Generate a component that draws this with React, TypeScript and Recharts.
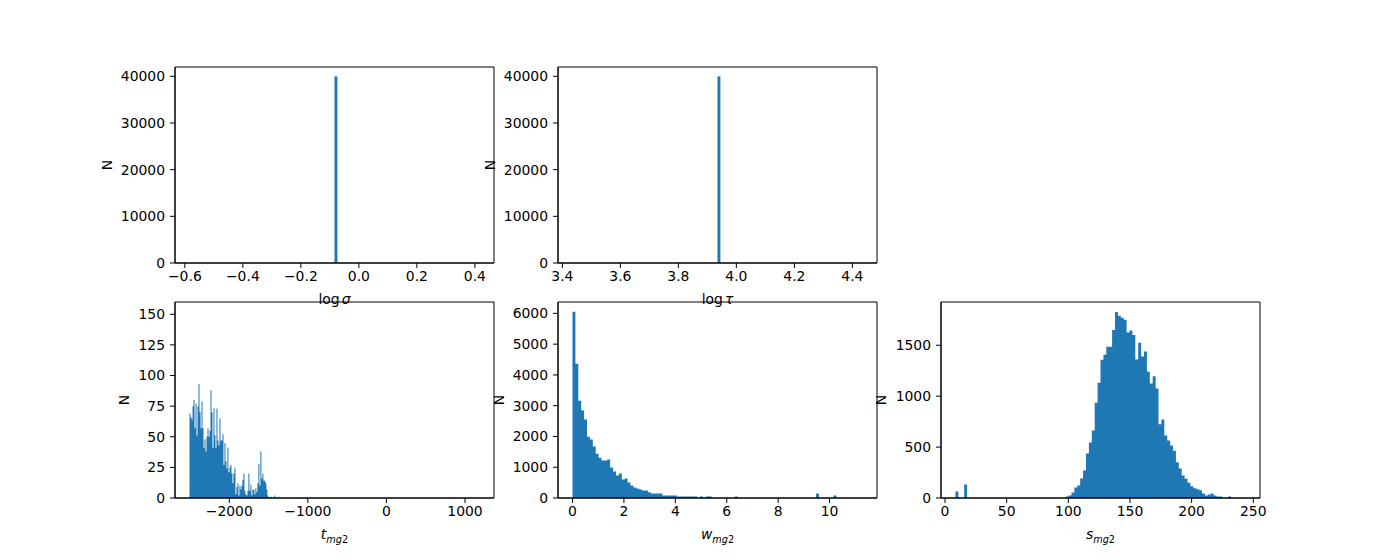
import React from 'react'
import { AreaChart, Area, XAxis, YAxis, ReferenceArea } from 'recharts'

const BLUE = '#1f77b4'
const FONT = '"DejaVu Sans", Verdana, sans-serif'
const FS = 13.9

// log sigma: one filled bin
const logSigmaStart = -0.084
const logSigmaWidth = 0.01
const logSigmaCounts = [40000]
const logSigmaTicks = [-0.6, -0.4, -0.2, 0.0, 0.2, 0.4]

// log tau: one filled bin
const logTauStart = 3.935
const logTauWidth = 0.01
const logTauCounts = [40000]
const logTauTicks = [3.4, 3.6, 3.8, 4.0, 4.2, 4.4]

const topYTicks = [0, 10000, 20000, 30000, 40000]

// t_mg2
const tStart = -2506
const tWidth = 12.7
const tCounts = [
  69, 66, 64, 75, 80, 57, 77, 51, 75, 93,
  70, 57, 79, 57, 41, 48, 38, 50, 57, 50,
  55, 88, 70, 41, 73, 51, 41, 73, 47, 43,
  65, 47, 47, 52, 27, 45, 30, 24, 41, 21,
  25, 27, 20, 12, 20, 25, 3, 9, 12, 2,
  10, 7, 10, 15, 20, 6, 3, 2, 6, 20,
  6, 11, 2, 7, 7, 3, 8, 5, 12, 28,
  10, 38, 16, 20, 14, 14, 12, 7, 2, 0,
  0, 1, 0, 0, 0, 2, 0, 0, 0, 1,
]
const tTicks = [-2000, -1000, 0, 1000]
const tYTicks = [0, 25, 50, 75, 100, 125, 150]

// w_mg2
const wStart = 0
const wWidth = 0.1128
const wCounts = [
  6050, 4360, 3160, 2840, 2550, 1990, 1900, 1670, 1440, 1310,
  1220, 1220, 1250, 990, 860, 730, 800, 600, 630, 500,
  410, 340, 310, 280, 245, 245, 185, 150, 150, 150,
  150, 85, 85, 80, 80, 80, 50, 50, 50, 50,
  50, 50, 45, 0, 50, 0, 50, 50, 0, 0,
  0, 0, 0, 0, 0, 0, 50, 0, 0, 0,
  0, 0, 0, 0, 0, 0, 0, 0, 0, 0,
  0, 0, 0, 0, 0, 0, 0, 0, 0, 0,
  0, 0, 0, 0, 150, 0, 0, 0, 0, 0,
  80, 0, 0, 0, 0, 0, 0, 0, 0, 0,
]
const wTicks = [0, 2, 4, 6, 8, 10]
const wYTicks = [0, 1000, 2000, 3000, 4000, 5000, 6000]

// s_mg2
const sStart = 8.5
const sWidth = 2.352
const sCounts = [
  64, 0, 0, 132, 0, 0, 0, 0, 0, 0,
  0, 0, 0, 0, 0, 0, 0, 0, 0, 0,
  0, 0, 0, 0, 0, 0, 0, 0, 0, 0,
  0, 0, 0, 0, 0, 0, 0, 0, 15, 25,
  54, 103, 122, 191, 270, 436, 544, 662, 936, 1132,
  1357, 1406, 1485, 1485, 1651, 1828, 1790, 1770, 1750, 1625,
  1645, 1600, 1360, 1525, 1390, 1440, 1240, 1125, 1195, 1075,
  725, 770, 615, 565, 515, 465, 350, 290, 220, 190,
  150, 115, 95, 85, 75, 45, 25, 35, 45, 25,
  15, 15, 0, 0, 15, 0, 0, 0, 0, 0,
]
const sTicks = [0, 50, 100, 150, 200, 250]
const sYTicks = [0, 500, 1000, 1500]

const toSteps = (start: number, width: number, counts: number[]) => {
  const pts = counts.map((n, i) => ({ x: start + i * width, n }))
  pts.push({ x: start + counts.length * width, n: 0 })
  return pts
}

const minus = (s: string) => s.replace('-', '\u2212')
const fmt1 = (v: number) => minus(v.toFixed(1))
const fmt0 = (v: number) => minus(String(v))

const AX_W = 319
const AX_H = 196
const PAD_L = 90
const PAD_T = 10
const PAD_R = 10
const PAD_B = 40

const tickStyle = { fill: '#000', fontSize: FS, fontFamily: FONT }

interface PanelProps {
  left: number
  top: number
  data: { x: number; n: number }[]
  xDomain: [number, number]
  xTicks: number[]
  xFmt: (v: number) => string
  yDomain: [number, number]
  yTicks: number[]
  xLabel: React.ReactNode
  nX: number
}

function Panel({ left, top, data, xDomain, xTicks, xFmt, yDomain, yTicks, xLabel, nX }: PanelProps) {
  return (
    <>
      <div style={{ position: 'absolute', left: left - PAD_L, top: top - PAD_T }}>
        <AreaChart
          width={AX_W + PAD_L + PAD_R}
          height={AX_H + PAD_T + PAD_B}
          data={data}
          margin={{ top: PAD_T, right: PAD_R, bottom: 0, left: 0 }}
        >
          <XAxis
            dataKey="x"
            type="number"
            domain={xDomain}
            ticks={xTicks}
            interval={0}
            allowDataOverflow
            tickFormatter={xFmt}
            tick={tickStyle}
            tickSize={5}
            tickMargin={3}
            stroke="#000"
            height={PAD_B}
          />
          <YAxis
            type="number"
            domain={yDomain}
            ticks={yTicks}
            interval={0}
            allowDataOverflow
            tick={tickStyle}
            tickSize={5}
            tickMargin={5}
            stroke="#000"
            width={PAD_L}
          />
          <Area
            type="stepAfter"
            dataKey="n"
            fill={BLUE}
            fillOpacity={1}
            stroke="none"
            isAnimationActive={false}
          />
          {/* axes frame (matplotlib spines) */}
          <ReferenceArea
            x1={xDomain[0]}
            x2={xDomain[1]}
            y1={yDomain[0]}
            y2={yDomain[1]}
            fill="none"
            fillOpacity={0}
            stroke="#000"
            strokeWidth={1}
            ifOverflow="visible"
          />
        </AreaChart>
      </div>
      <div
        style={{
          position: 'absolute',
          left: nX,
          top: top + AX_H / 2,
          transform: 'translate(-50%, -50%) rotate(-90deg)',
          fontSize: FS,
          lineHeight: 1,
        }}
      >
        N
      </div>
      <div
        style={{
          position: 'absolute',
          left: left + AX_W / 2,
          top: top + AX_H + 37,
          transform: 'translate(-50%, -50%)',
          fontSize: FS,
          lineHeight: 1,
          whiteSpace: 'nowrap',
        }}
      >
        {xLabel}
      </div>
    </>
  )
}

const Sub = ({ v }: { v: string }) => (
  <>
    <i>{v}</i>
    <span style={{ fontSize: FS * 0.7, position: 'relative', top: 4 }}>
      <i>mg</i>2
    </span>
  </>
)

const Log = ({ g }: { g: string }) => (
  <>
    log<i style={{ marginLeft: 2 }}>{g}</i>
  </>
)

export default function App() {
  return (
    <div
      style={{
        position: 'absolute',
        left: 0,
        top: 0,
        width: 1400,
        height: 560,
        background: '#fff',
        fontFamily: FONT,
        color: '#000',
      }}
    >
      <Panel
        left={175}
        top={67}
        data={toSteps(logSigmaStart, logSigmaWidth, logSigmaCounts)}
        xDomain={[-0.634, 0.466]}
        xTicks={logSigmaTicks}
        xFmt={fmt1}
        yDomain={[0, 42000]}
        yTicks={topYTicks}
        xLabel={<Log g="σ" />}
        nX={108}
      />
      <Panel
        left={558}
        top={67}
        data={toSteps(logTauStart, logTauWidth, logTauCounts)}
        xDomain={[3.385, 4.485]}
        xTicks={logTauTicks}
        xFmt={fmt1}
        yDomain={[0, 42000]}
        yTicks={topYTicks}
        xLabel={<Log g="τ" />}
        nX={491}
      />
      <Panel
        left={175}
        top={302}
        data={toSteps(tStart, tWidth, tCounts)}
        xDomain={[-2691, 1369]}
        xTicks={tTicks}
        xFmt={fmt0}
        yDomain={[0, 160]}
        yTicks={tYTicks}
        xLabel={<Sub v="t" />}
        nX={125}
      />
      <Panel
        left={558}
        top={302}
        data={toSteps(wStart, wWidth, wCounts)}
        xDomain={[-0.564, 11.846]}
        xTicks={wTicks}
        xFmt={fmt0}
        yDomain={[0, 6370]}
        yTicks={wYTicks}
        xLabel={<Sub v="w" />}
        nX={500}
      />
      <Panel
        left={941}
        top={302}
        data={toSteps(sStart, sWidth, sCounts)}
        xDomain={[-3.24, 255.44]}
        xTicks={sTicks}
        xFmt={fmt0}
        yDomain={[0, 1925]}
        yTicks={sYTicks}
        xLabel={<Sub v="s" />}
        nX={882}
      />
    </div>
  )
}
